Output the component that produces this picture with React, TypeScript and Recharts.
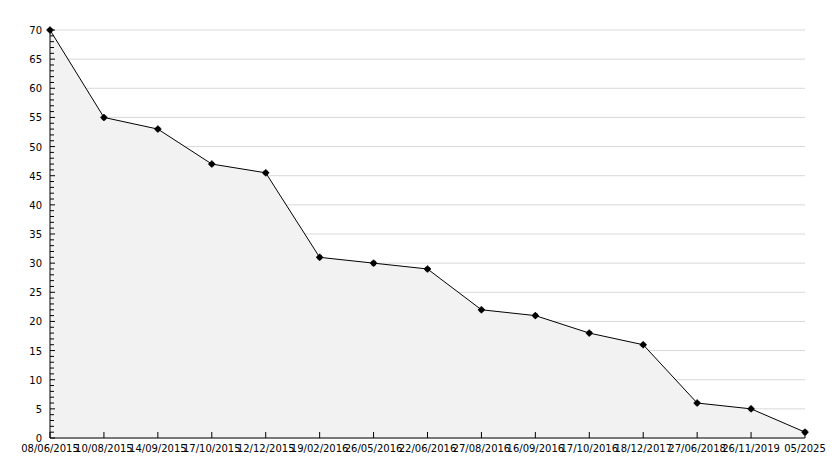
import React from 'react';
import { ComposedChart, Area, XAxis, YAxis, CartesianGrid } from 'recharts';

const dates = [
  '08/06/2015', '10/08/2015', '14/09/2015', '17/10/2015', '12/12/2015',
  '19/02/2016', '26/05/2016', '22/06/2016', '27/08/2016', '16/09/2016',
  '17/10/2016', '18/12/2017', '27/06/2018', '26/11/2019', '05/2025',
];
const values = [70, 55, 53, 47, 45.5, 31, 30, 29, 22, 21, 18, 16, 6, 5, 1];
const minorTicks = Array.from({ length: 71 }, (_, i) => i);
const majorTicks = [0, 5, 10, 15, 20, 25, 30, 35, 40, 45, 50, 55, 60, 65, 70];

const data = dates.map((d, i) => ({ date: d, value: values[i] }));

const FONT = 'DejaVu Sans, sans-serif';

const YTick = (props: any) => {
  const { x, y, payload } = props;
  const v = payload.value;
  const major = v % 5 === 0;
  const axisX = x + 8;
  return (
    <g>
      <line x1={axisX} x2={axisX + (major ? 5 : 4)} y1={y} y2={y} stroke="#000" strokeWidth={1} />
      {major && (
        <text x={x} y={y} dy={4} textAnchor="end" fontSize={10} fontFamily={FONT} fill="#000">
          {v}
        </text>
      )}
    </g>
  );
};

const Dot = (props: any) => {
  const { cx, cy } = props;
  if (cx == null || cy == null) return null;
  return (
    <g>
      <circle cx={cx} cy={cy} r={2.8} fill="#000" />
      <line x1={cx - 3.5} x2={cx + 3.5} y1={cy} y2={cy} stroke="#000" strokeWidth={1.5} />
      <line x1={cx} x2={cx} y1={cy - 3.5} y2={cy + 3.5} stroke="#000" strokeWidth={1.5} />
    </g>
  );
};

export default function App() {
  return (
    <div style={{ position: 'absolute', left: 0, top: 0, width: 834, height: 468, background: '#fff' }}>
      <ComposedChart
        width={834}
        height={468}
        data={data}
        margin={{ top: 30, right: 29, bottom: 0, left: 0 }}
      >
        <CartesianGrid
          horizontal
          vertical={false}
          stroke="#d9d9d9"
          horizontalValues={majorTicks}
        />
        <XAxis
          dataKey="date"
          type="category"
          interval={0}
          height={30}
          padding={{ left: 0, right: 0 }}
          tickSize={-6}
          tickMargin={13}
          axisLine={{ stroke: '#000' }}
          tickLine={{ stroke: '#000' }}
          tick={{ fontSize: 10, fontFamily: FONT, fill: '#000' }}
          scale="point"
        />
        <YAxis
          width={50}
          domain={[0, 70]}
          ticks={minorTicks}
          interval={0}
          tickSize={0}
          tickMargin={8}
          tickLine={false}
          axisLine={{ stroke: '#000' }}
          tick={<YTick />}
          type="number"
        />
        <Area
          type="linear"
          dataKey="value"
          stroke="#000"
          strokeWidth={1}
          fill="#f2f2f2"
          fillOpacity={1}
          dot={<Dot />}
          activeDot={false}
          isAnimationActive={false}
        />
      </ComposedChart>
    </div>
  );
}
